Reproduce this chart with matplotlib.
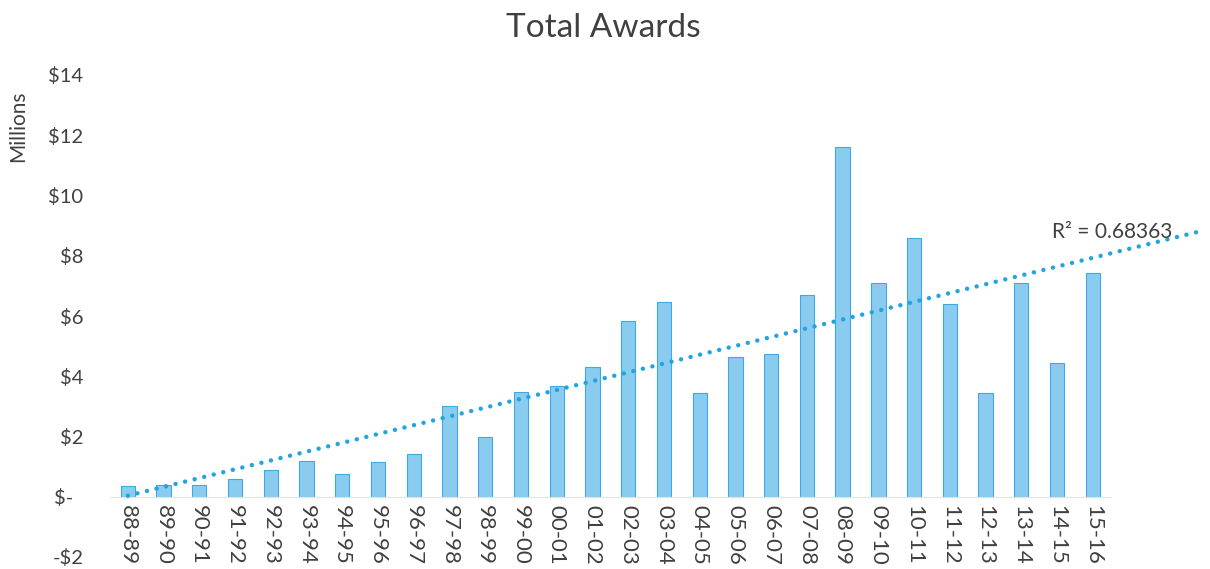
import numpy as np
import matplotlib
matplotlib.use("Agg")
import matplotlib.pyplot as plt
from matplotlib.ticker import FixedLocator

plt.rcParams['font.family'] = ['Lato', 'DejaVu Sans']

categories = ["88-89", "89-90", "90-91", "91-92", "92-93", "93-94", "94-95", "95-96",
              "96-97", "97-98", "98-99", "99-00", "00-01", "01-02", "02-03", "03-04",
              "04-05", "05-06", "06-07", "07-08", "08-09", "09-10", "10-11", "11-12",
              "12-13", "13-14", "14-15", "15-16"]
awards = [0.35, 0.38, 0.38, 0.60, 0.90, 1.20, 0.76, 1.17, 1.42, 3.00, 2.00, 3.47,
          3.69, 4.31, 5.84, 6.47, 3.45, 4.65, 4.74, 6.71, 11.60, 7.09, 8.58, 6.41,
          3.43, 7.08, 4.43, 7.43]
y_ticks = [-2, 0, 2, 4, 6, 8, 10, 12, 14]
y_tick_labels = ["-$2", "$-  ", "$2", "$4", "$6", "$8", "$10", "$12", "$14"]
r2_label = "R² = 0.68363"
forecast_forward = 3

text_color = "#404040"
fig = plt.figure(figsize=(12.10, 5.69), dpi=100)
ax = fig.add_axes([110/1210, 12/569, 1100/1210, 482/569])

x = np.arange(len(categories))
ax.bar(x, awards, width=0.4, color="#8ACCF0", edgecolor="#3DA8E2", linewidth=0.8, zorder=2)

# linear trendline with forward forecast
coef = np.polyfit(x, awards, 1)
xt = np.linspace(0, len(categories) - 1 + forecast_forward, 400)
ax.plot(xt, np.polyval(coef, xt), linestyle=(0, (0.01, 2.2)), color="#22A4DF",
        linewidth=3.2, dash_capstyle="round", solid_capstyle="round", zorder=3, clip_on=False)
ax.text(25.86, 8.8, r2_label, fontsize=15, color=text_color, ha="left", va="center")

ax.set_xlim(-0.5, len(categories) - 1 + forecast_forward + 0.28)
ax.set_ylim(-2, 14)
ax.yaxis.set_major_locator(FixedLocator(y_ticks))
ax.set_yticklabels(y_tick_labels)
ax.set_xticks(x)
ax.set_xticklabels(categories)

for s in ["top", "right", "left"]:
    ax.spines[s].set_visible(False)
ax.spines["bottom"].set_position(("data", 0))
ax.spines["bottom"].set_color("#E4E4E4")
ax.spines["bottom"].set_bounds(-0.5, len(categories) - 0.5)
ax.tick_params(axis="y", length=0, labelsize=14.5, colors=text_color, pad=19)
ax.tick_params(axis="x", length=0, labelsize=16, colors=text_color, pad=6, labelrotation=-90)
for lab in ax.get_yticklabels():
    lab.set_horizontalalignment("right")

fig.text(18/1210, 1 - 126/569, "Millions", rotation=90, fontsize=15, color=text_color,
         ha="center", va="center")
fig.text(603/1210, 1 - 28/569, "Total Awards", fontsize=24, color=text_color,
         ha="center", va="center")

fig.savefig("out.png", dpi=100)
